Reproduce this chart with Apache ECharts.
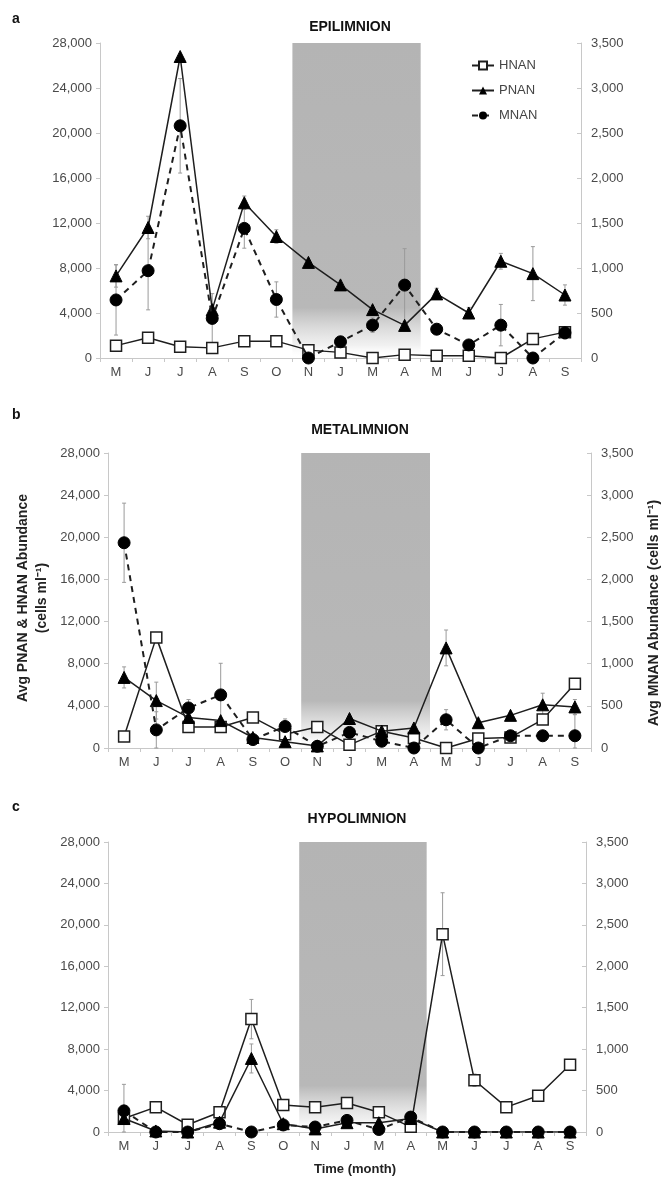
<!DOCTYPE html>
<html>
<head>
<meta charset="utf-8">
<script src="https://cdn.jsdelivr.net/npm/echarts@6/dist/echarts.min.js"></script>
<style>
html,body{margin:0;padding:0;background:#fff;}
#chart{width:666px;height:1188px;}
</style>
</head>
<body>
<div id="chart"></div>
<script>
// ---- Data ----
const months = ['M','J','J','A','S','O','N','J','M','A','M','J','J','A','S'];
const leftTicks = [0, 28000, 4000];   // min, max, interval (left axis: PNAN & HNAN)
const rightTicks = [0, 3500, 500];    // min, max, interval (right axis: MNAN)
const shadeStart = 6;  // index of first shaded month (N)
const shadeEnd = 9;    // index of last shaded month (A)

const panelTitles = ['EPILIMNION','METALIMNION','HYPOLIMNION'];
const panelLetters = ['a','b','c'];

// Panel a – Epilimnion
const aHNAN = [1100, 1800, 1000, 900, 1500, 1500, 700, 500, 0, 300, 200, 200, 0, 1700, 2300];
const aPNAN = [7300, 11600, 26800, 4300, 13800, 10800, 8500, 6500, 4300, 2900, 5700, 4000, 8600, 7500, 5600];
const aMNAN = [645, 970, 2580, 440, 1440, 650, 0, 180, 365, 810, 320, 145, 365, 0, 280];
const aHNANErr = [300, 400, 0, 0, 300, 300, 300, 0, 0, 0, 0, 0, 0, 300, 500];
const aPNANErr = [1000, 1000, 0, 0, 600, 600, 0, 0, 0, 0, 500, 500, 700, 2400, 900];
const aMNANErr = [390, 435, 525, 275, 220, 196, 0, 60, 80, 405, 60, 0, 230, 0, 70];

// Panel b – Metalimnion
const bHNAN = [1100, 10500, 2000, 2000, 2900, 1300, 2000, 300, 1600, 950, 0, 900, 1000, 2700, 6100];
const bPNAN = [6700, 4500, 2900, 2600, 1000, 600, 200, 2800, 1600, 1900, 9500, 2400, 3100, 4100, 3900];
const bMNAN = [2435, 215, 475, 630, 100, 255, 20, 185, 80, 0, 335, 0, 145, 145, 145];
const bHNANErr = [0, 0, 0, 0, 0, 0, 0, 0, 0, 0, 0, 0, 0, 0, 0];
const bPNANErr = [1000, 1750, 900, 0, 0, 0, 0, 0, 0, 0, 1700, 0, 0, 1100, 700];
const bMNANErr = [470, 215, 100, 375, 0, 90, 0, 0, 0, 0, 120, 0, 0, 0, 250];

// Panel c – Hypolimnion
const cHNAN = [1300, 2400, 700, 1900, 10900, 2600, 2400, 2800, 1900, 500, 19100, 5000, 2400, 3500, 6500];
const cPNAN = [1300, 100, 0, 950, 7100, 800, 300, 900, 900, 1300, 0, 0, 0, 0, 0];
const cMNAN = [255, 0, 0, 100, 0, 85, 60, 140, 30, 180, 0, 0, 0, 0, 0];
const cHNANErr = [0, 300, 0, 0, 1900, 0, 0, 0, 0, 0, 4000, 600, 0, 0, 0];
const cPNANErr = [0, 0, 0, 0, 1400, 0, 0, 0, 0, 0, 0, 0, 0, 0, 0];
const cMNANErr = [320, 0, 0, 0, 0, 0, 0, 0, 0, 0, 0, 0, 0, 0, 0];

const panels = [
  {H: aHNAN, P: aPNAN, M: aMNAN, He: aHNANErr, Pe: aPNANErr, Me: aMNANErr},
  {H: bHNAN, P: bPNAN, M: bMNAN, He: bHNANErr, Pe: bPNANErr, Me: bMNANErr},
  {H: cHNAN, P: cPNAN, M: cMNAN, He: cHNANErr, Pe: cPNANErr, Me: cMNANErr}
];

// ---- Layout ----
const grids = [
  {left: 100, right: 85, top: 43, height: 315},
  {left: 108, right: 75, top: 453, height: 295},
  {left: 108, right: 80, top: 842, height: 290}
];
const FONT = '"Liberation Sans", Arial, sans-serif';
const LINE = '#1e1e1e';
const AXIS = '#c8c8c8';
const LABEL = '#4a4a4a';

const fmt = v => Number(v).toLocaleString('en-US');

function errSeries(name, vals, errs, xi, yi) {
  return {
    type: 'custom', name: name + 'err', xAxisIndex: xi, yAxisIndex: yi, z: 2,
    silent: true,
    data: vals.map((v, i) => [i, v, errs[i]]),
    encode: {x: 0, y: 1},
    renderItem: function (params, api) {
      const x = api.value(0), v = api.value(1), e = api.value(2);
      if (!e) return null;
      const top = api.coord([x, v + e]);
      const bot = api.coord([x, Math.max(0, v - e)]);
      const st = {stroke: '#9a9a9a', lineWidth: 1};
      return {type: 'group', children: [
        {type: 'line', shape: {x1: top[0], y1: top[1], x2: bot[0], y2: bot[1]}, style: st},
        {type: 'line', shape: {x1: top[0]-2, y1: top[1], x2: top[0]+2, y2: top[1]}, style: st},
        {type: 'line', shape: {x1: bot[0]-2, y1: bot[1], x2: bot[0]+2, y2: bot[1]}, style: st}
      ]};
    }
  };
}

function shadeSeries(xi, yi) {
  return {
    type: 'custom', name: 'shade', xAxisIndex: xi, yAxisIndex: yi, z: 0, silent: true,
    data: [[shadeStart, shadeEnd, leftTicks[1]]],
    encode: {x: [0, 1]},
    renderItem: function (params, api) {
      const band = api.size([1, 0])[0];
      const p0 = api.coord([api.value(0), api.value(2)]);
      const p1 = api.coord([api.value(1), 0]);
      const x0 = p0[0] - band / 2, x1 = p1[0] + band / 2;
      return {type: 'rect',
        shape: {x: x0, y: p0[1], width: x1 - x0, height: p1[1] - p0[1]},
        style: {fill: new echarts.graphic.LinearGradient(0, 0, 0, 1, [
          {offset: 0, color: '#b4b4b4'},
          {offset: 0.84, color: '#b8b8b8'},
          {offset: 0.96, color: 'rgba(235,235,235,0.7)'},
          {offset: 1, color: 'rgba(255,255,255,0)'}
        ])}};
    }
  };
}

const xAxes = [], yAxes = [], series = [];
panels.forEach((p, k) => {
  xAxes.push({
    type: 'category', gridIndex: k, data: months, boundaryGap: true,
    axisLine: {lineStyle: {color: AXIS}},
    axisTick: {show: true, interval: 0, length: 4, lineStyle: {color: AXIS}},
    axisLabel: {interval: 0, color: LABEL, fontFamily: FONT, fontSize: 13, margin: 8},
    splitLine: {show: false}
  });
  yAxes.push({
    type: 'value', gridIndex: k, position: 'left',
    min: leftTicks[0], max: leftTicks[1], interval: leftTicks[2],
    axisLine: {show: true, lineStyle: {color: AXIS}},
    axisTick: {show: true, length: 4, lineStyle: {color: AXIS}},
    axisLabel: {color: LABEL, fontFamily: FONT, fontSize: 13, formatter: fmt, margin: 8},
    splitLine: {show: false}
  });
  yAxes.push({
    type: 'value', gridIndex: k, position: 'right',
    min: rightTicks[0], max: rightTicks[1], interval: rightTicks[2],
    axisLine: {show: true, lineStyle: {color: AXIS}},
    axisTick: {show: true, inside: true, length: 4, lineStyle: {color: AXIS}},
    axisLabel: {color: LABEL, fontFamily: FONT, fontSize: 13, formatter: fmt, margin: 10},
    splitLine: {show: false}
  });
  const yl = 2 * k, yr = 2 * k + 1;
  series.push(shadeSeries(k, yl));
  series.push(errSeries('HNAN', p.H, p.He, k, yl));
  series.push(errSeries('PNAN', p.P, p.Pe, k, yl));
  series.push(errSeries('MNAN', p.M, p.Me, k, yr));
  series.push({
    type: 'line', name: 'HNAN', xAxisIndex: k, yAxisIndex: yl, z: 4,
    data: p.H, symbol: 'rect', symbolSize: 11, showAllSymbol: true,
    lineStyle: {color: LINE, width: 1.5},
    itemStyle: {color: '#ffffff', borderColor: LINE, borderWidth: 1.5},
    emphasis: {disabled: true}
  });
  series.push({
    type: 'line', name: 'PNAN', xAxisIndex: k, yAxisIndex: yl, z: 5,
    data: p.P, symbol: 'triangle', symbolSize: 12, showAllSymbol: true,
    lineStyle: {color: LINE, width: 1.5},
    itemStyle: {color: '#000000', borderColor: '#000000'},
    emphasis: {disabled: true}
  });
  series.push({
    type: 'line', name: 'MNAN', xAxisIndex: k, yAxisIndex: yr, z: 6,
    data: p.M, symbol: 'circle', symbolSize: 12, showAllSymbol: true,
    lineStyle: {color: LINE, width: 2, type: [6, 5]},
    itemStyle: {color: '#000000', borderColor: '#000000'},
    emphasis: {disabled: true}
  });
});

const titleTop = [20, 423, 812];
const titleX = [350, 360, 357];
const letterTop = [12, 408, 800];
const graphics = [];
panelTitles.forEach((t, k) => {
  graphics.push({type: 'text', x: titleX[k], y: titleTop[k],
    style: {text: t, font: 'bold 14px ' + FONT, fill: '#111', align: 'center'}});
  graphics.push({type: 'text', left: 12, top: letterTop[k],
    style: {text: panelLetters[k], font: 'bold 14px ' + FONT, fill: '#111'}});
});
graphics.push({type: 'text', x: 355, y: 1163,
  style: {text: 'Time (month)', font: 'bold 13px ' + FONT, fill: '#222', align: 'center'}});
graphics.push({type: 'text', x: 33, y: 598, rotation: Math.PI / 2,
  style: {text: 'Avg PNAN & HNAN Abundance\n(cells ml\u207B\u00B9)', font: 'bold 14px ' + FONT,
    fill: '#222', align: 'center', verticalAlign: 'middle', lineHeight: 19}});
graphics.push({type: 'text', x: 654, y: 613, rotation: Math.PI / 2,
  style: {text: 'Avg MNAN Abundance (cells ml\u207B\u00B9)', font: 'bold 14px ' + FONT,
    fill: '#222', align: 'center', verticalAlign: 'middle'}});

const chart = echarts.init(document.getElementById('chart'), null, {renderer: 'canvas'});
chart.setOption({
  animation: false,
  backgroundColor: '#ffffff',
  grid: grids.map(g => Object.assign({containLabel: false}, g)),
  xAxis: xAxes,
  yAxis: yAxes,
  legend: {
    data: ['HNAN', 'PNAN', 'MNAN'],
    orient: 'vertical', left: 466, top: 54, itemGap: 12,
    itemWidth: 22, itemHeight: 10,
    textStyle: {fontFamily: FONT, fontSize: 13, color: '#444'},
    selectedMode: false
  },
  series: series,
  graphic: graphics
});
</script>
</body>
</html>
